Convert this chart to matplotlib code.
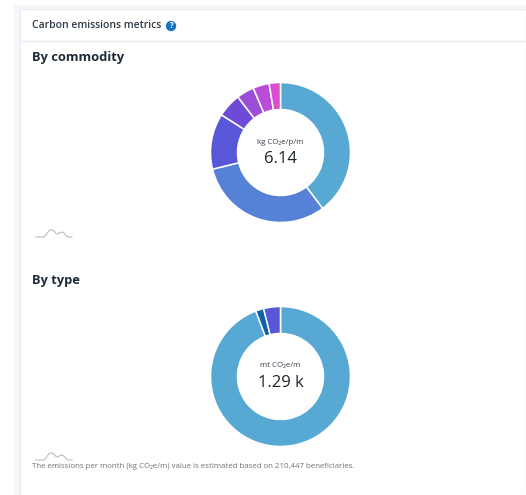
import matplotlib
matplotlib.use('Agg')
import matplotlib.pyplot as plt
from matplotlib.patches import Rectangle, Circle

plt.rcParams['font.family'] = ['Open Sans', 'DejaVu Sans']

# kg CO2e per person per month, by commodity
commodity_values = [2.44, 1.93, 0.79, 0.34, 0.25, 0.23, 0.16]
commodity_colors = ['#57a9d4', '#5581d6', '#5757d8', '#6f4ad6', '#9a4fd6', '#b94dd8', '#d94fcf']

# mt CO2e per month, by type
type_values = [1216, 24, 50]
type_colors = ['#57a9d4', '#0f62a8', '#5757d8']

# small placeholder sparkline under each donut
spark_x = [0, 8, 10, 12, 14, 16, 18, 20, 22, 24, 26, 28, 30, 32, 36]
spark_y = [0, 0, 2, 5, 7, 7, 6, 3.5, 3, 4.5, 5, 4, 1.5, 0, 0]

W, H = 526, 495
fig = plt.figure(figsize=(W / 100, H / 100), dpi=100, facecolor='white')

# page layer in pixel coordinates
bg = fig.add_axes([0, 0, 1, 1])
bg.set_xlim(0, W)
bg.set_ylim(H, 0)
bg.axis('off')
bg.add_patch(Rectangle((14, 5), W - 14, H - 5, fc='#f4f6f9', ec='none'))
bg.add_patch(Rectangle((20, 9), W - 20, H - 9, fc='white', ec='#e8ebef', lw=0.8))
bg.plot([20, W], [40.5, 40.5], color='#e6ebf1', lw=1)

bg.text(32, 25.5, 'Carbon emissions metrics', fontsize=7.5, color='#2f3a45', va='center', weight='semibold')
bg.add_patch(Circle((171, 26), 5.2, fc='#1a75bd', ec='none'))
bg.text(171, 26, '?', fontsize=5.5, color='white', ha='center', va='center', weight='bold')

bg.text(32, 57, 'By commodity', fontsize=9.3, color='#1f2a36', va='center', weight='bold')
bg.text(32, 280.5, 'By type', fontsize=9.3, color='#1f2a36', va='center', weight='bold')


def donut(cx, cy, values, colors, unit, total):
    r = 70
    ax = fig.add_axes([(cx - r) / W, 1 - (cy + r) / H, 2 * r / W, 2 * r / H])
    ax.pie(values, colors=colors, startangle=90, counterclock=False, radius=1,
           wedgeprops={'width': 27 / 70, 'edgecolor': 'white', 'linewidth': 1.1})
    ax.set_xlim(-1, 1)
    ax.set_ylim(-1, 1)
    ax.text(0, 0.15, unit, fontsize=5.7, color='#3a434d', ha='center', va='center')
    ax.text(0, -0.095, total, fontsize=12, color='#1c242c', ha='center', va='center')


donut(280.5, 152.5, commodity_values, commodity_colors, 'kg CO₂e/p/m', '6.14')
donut(280.5, 376.5, type_values, type_colors, 'mt CO₂e/m', '1.29 k')

# sparklines
for x0, y0 in [(36, 237), (36, 460)]:
    bg.plot([x0 + v for v in spark_x], [y0 - v for v in spark_y], color='#b9bcc0', lw=0.8)

bg.text(32, 467, 'The emissions per month (kg CO₂e/m) value is estimated based on 210,447 beneficiaries.',
        fontsize=5.67, color='#6d747c', va='center')

fig.savefig('out.png', dpi=100, facecolor=fig.get_facecolor())
